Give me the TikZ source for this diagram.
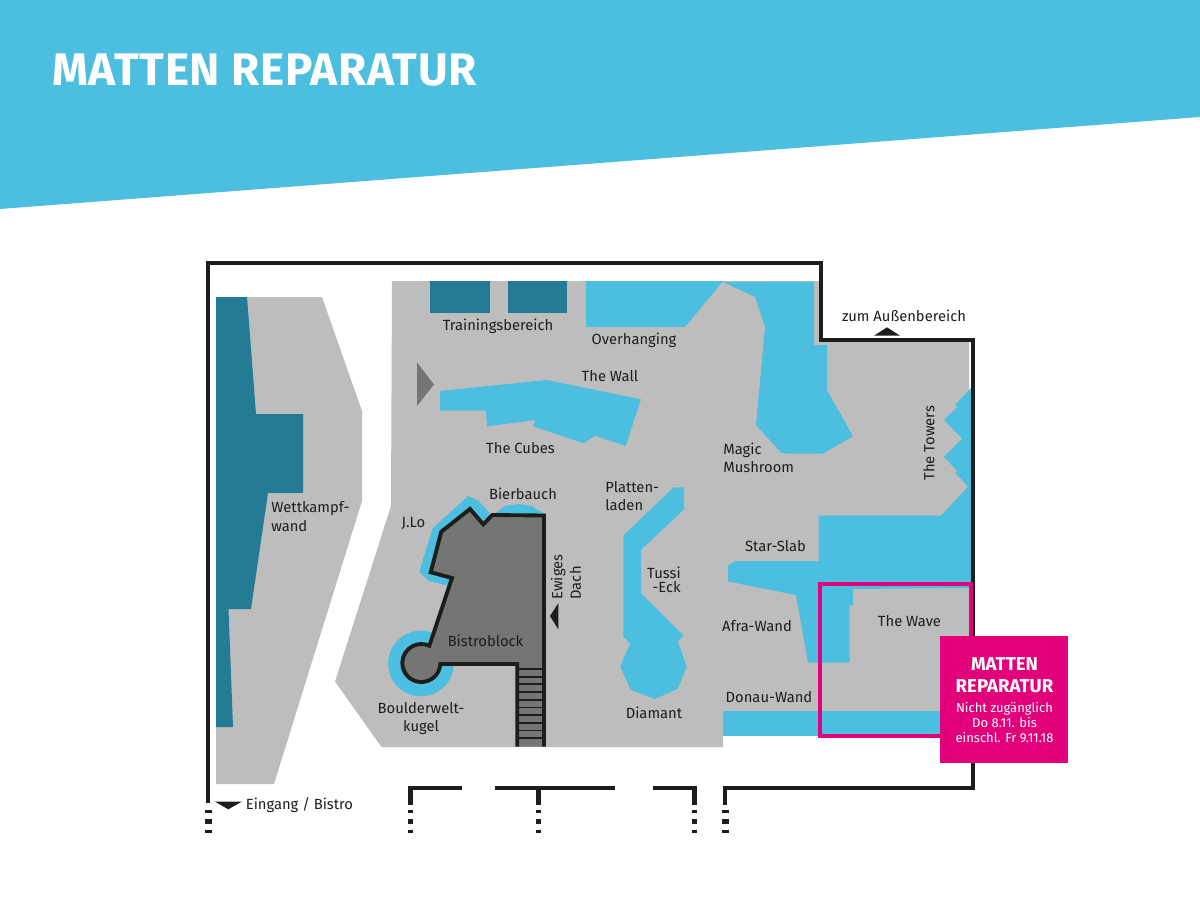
\documentclass[tikz,border=0pt]{standalone}
\usepackage{fontspec}
\setmainfont{Fira Sans}
\definecolor{hallblue}{HTML}{4CBEE0}
\definecolor{hallteal}{HTML}{247B94}
\definecolor{hallgray}{HTML}{BDBDBD}
\definecolor{blockgray}{HTML}{747674}
\definecolor{wallblack}{HTML}{1D1D1B}
\definecolor{repairpink}{HTML}{E3007B}
\begin{document}
\begin{tikzpicture}[
    x=0.2cm,
    y=0.2cm,
    scale=0.1,
    yscale=-1,
    wall/.style={draw=wallblack,line width=2.2pt,line cap=butt,miter limit=10},
    thinwall/.style={draw=wallblack,line width=2.7pt},
    bluewall/.style={fill=hallblue},
    tealwall/.style={fill=hallteal},
    pointer/.style={fill=wallblack},
    lbl/.style={text=wallblack,inner sep=0pt,font=\fontsize{8.4}{10.5}\selectfont},
    lblleft/.style={lbl,align=left,anchor=west},
    lblright/.style={lbl,align=right,anchor=east},
    lblmid/.style={lbl,align=center},
    lblup/.style={lbl,align=left,rotate=90}
]
    \useasboundingbox (0,0) rectangle (1200,900);

    % Header band
    \fill[hallblue] (0,0) -- (1200,0) -- (1200,117) -- (0,209) -- cycle;
    \node[anchor=west,text=white,inner sep=0pt,font=\fontsize{26}{28}\selectfont\bfseries\addfontfeatures{LetterSpace=1.6}] (title) at (52,70) {MATTEN REPARATUR};

    % Floor
    \fill[hallgray] (216,297) -- (322,297) -- (362,411) -- (362,501) -- (274,784) -- (216,784) -- cycle;
    \fill[hallgray] (392,281) -- (820,281) -- (820,341) -- (969,341) -- (969,711) -- (723,711) -- (723,747) -- (381.5,747) -- (335,681.5) -- (391,506) -- cycle;

    % Dark walls
    \fill[tealwall] (216,297) -- (247,297) -- (256,414) -- (303,414) -- (303,493) -- (268,493) -- (251,609) -- (228.5,609) -- (233,727) -- (216,727) -- cycle;
    \fill[tealwall] (430,281) rectangle (489.5,312.5);
    \fill[tealwall] (507.7,281) rectangle (567,312.5);

    % Blue walls
    \fill[bluewall] (586,281) -- (723,281) -- (685,327) -- (586,327) -- cycle;
    \fill[bluewall] (723,282) -- (755,297) -- (765,327) -- (756,425) -- (781,452.5) -- (786,453.5) -- (823,453.5) -- (853,436.5) -- (827,390) -- (827,345) -- (814,345) -- (814,281.5) -- cycle;
    \fill[bluewall] (971,388) -- (955,405) -- (958,406) -- (944,420) -- (962,438.5) -- (944,457) -- (957,470.5) -- (955,472.5) -- (968,486.5) -- (941.5,515.5) -- (818.5,515.5) -- (818.5,561) -- (736,561) -- (728,565.5) -- (728,581.5) -- (796,595) -- (808,662.5) -- (849.5,662.5) -- (849.5,605) -- (853,605) -- (853,589) -- (971,588) -- cycle;
    \fill[bluewall] (723,711) rectangle (971,736);
    \fill[bluewall] (440,391) -- (546.7,380) -- (641,399.3) -- (625.7,446) -- (595,435.7) -- (583.7,443.3) -- (533,426.3) -- (535.3,420) -- (487.3,426.3) -- (485.7,410.7) -- (440,410.7) -- cycle;
    \fill[bluewall] (673.7,487.3) -- (684,487.3) -- (684,509.3) -- (641,550) -- (641,593.3) -- (683.7,635.7) -- (677.7,641.3) -- (686.7,666.7) -- (677.7,689) -- (654.7,699) -- (630.7,689.7) -- (620.3,666.7) -- (630.3,643.3) -- (623.3,636.7) -- (623.3,535.7) -- cycle;
    \fill[bluewall] (468.3,496) -- (478.3,500.7) -- (490,513.3) -- (470,545) -- (448.3,585.7) -- (428.7,581) -- (419.3,571.7) -- (432.7,528.3) -- cycle;
    \fill[bluewall] (495,513.3) -- (505,506) -- (518.3,504) -- (531.7,506) -- (545.7,514.5) -- cycle;
    \fill[bluewall] (421,663.5) circle (32.8);

    % Bistro block
    \fill[fill=blockgray,miter limit=10] (492.3,515) -- (544,515.5) -- (544,746.7) -- (517.3,746.7) -- (517.3,664) -- (440.3,664) arc[start angle=3,end angle=295,radius=19] -- (452,578) -- (430.7,572.3) -- (441.3,531.7) -- (470,509) -- (483.3,524.3) -- cycle;
    \foreach \n in {0,...,9}
        \draw[wallblack,line width=1pt] (517.3,669+7.68*\n) -- (544,669+7.68*\n);
    \draw[thinwall,line width=2.2pt] (517.3,746.7) -- (517.3,664) -- (440.3,664) arc[start angle=3,end angle=295,radius=19] -- (452,578) -- (430.7,572.3) -- (441.3,531.7) -- (470,509) -- (483.3,524.3) -- (492.3,515) -- (544,515.5) -- (544,746.7);
    \fill[blockgray] (417,362.5) -- (434,384.5) -- (417,406) -- cycle;

    % Outer walls
    \draw[wall] (208.3,803) -- (208.3,263.3) -- (820.7,263.3) -- (820.7,340) -- (973,340) -- (973,788) -- (725.3,788) -- (725.3,805);
    \draw[thinwall] (410.5,805) -- (410.5,788) -- (461.7,788);
    \draw[thinwall] (494.7,788) -- (614.7,788);
    \draw[thinwall] (538.3,788) -- (538.3,805);
    \draw[thinwall] (653,788) -- (694.3,788) -- (694.3,805);

    % Dashed wall ends
    \foreach \x/\w in {208.3/7,725.3/7,410.5/5,538.3/5,694.3/5}{
        \fill[wallblack] (\x-\w/2,809.5) rectangle (\x+\w/2,812.5);
        \fill[wallblack] (\x-\w/2,819) rectangle (\x+\w/2,824);
        \fill[wallblack] (\x-\w/2,829.5) rectangle (\x+\w/2,832.5);
    }

    % Pointers
    \fill[pointer] (558.3,603.3) -- (550,616) -- (558.3,629.3) -- cycle;
    \fill[pointer] (215,801.7) -- (241.7,801.7) -- (228.3,809.3) -- cycle;
    \fill[pointer] (874,335.7) -- (900,335.7) -- (887,327.3) -- cycle;

    % Labels
    \node[lblmid] (training) at (498,326) {Trainingsbereich};
    \node[lblmid] (overhanging) at (634,340) {Overhanging};
    \node[lblmid] (wallname) at (610,376) {The Wall};
    \node[lblmid] (cubes) at (520.5,448) {The Cubes};
    \node[lblleft] (mushroom) at (723,458) {Magic\\Mushroom};
    \node[lblleft] (wettkampf) at (271,516.5) {Wettkampf-\\wand};
    \node[lblmid] (jlo) at (413.5,523) {J.Lo};
    \node[lblmid] (bierbauch) at (523,494) {Bierbauch};
    \node[lblleft] (platten) at (605,496) {Platten-\\laden};
    \node[lblright,font=\fontsize{8.4}{8}\selectfont] (tussi) at (681,580) {Tussi\\-Eck};
    \node[lblmid] (diamant) at (654,713) {Diamant};
    \node[lblup] (dach) at (566,577) {Ewiges\\Dach};
    \node[lblmid] (bistro) at (485.5,641) {Bistroblock};
    \node[lblmid] (kugel) at (421,718.5) {Boulderwelt-\\kugel};
    \node[lblmid] (slab) at (775.5,546) {Star-Slab};
    \node[lblmid] (afra) at (757,626) {Afra-Wand};
    \node[lblmid] (donau) at (769,697) {Donau-Wand};
    \node[lblmid] (wave) at (909.5,621) {The Wave};
    \node[lblup] (towers) at (929,443) {The Towers};
    \node[lblmid] (aussen) at (904,316) {zum Außenbereich};
    \node[lblmid] (eingang) at (299.5,805) {Eingang / Bistro};

    % Repair marker
    \draw[repairpink,line width=2.3pt] (819.7,584.3) rectangle (971,735.7);
    \fill[repairpink] (940,635.7) rectangle (1067.7,763.3);
    \node[text=white,inner sep=0pt,align=center,font=\fontsize{10.6}{12.5}\selectfont\bfseries] (repair) at (1004.5,675) {MATTEN\\REPARATUR};
    \node[text=white,inner sep=0pt,align=center,font=\fontsize{7.4}{8.5}\selectfont] (repairnote) at (1004.5,722.7) {Nicht zugänglich\\Do 8.11. bis\\einschl. Fr 9.11.18};
\end{tikzpicture}
\end{document}
